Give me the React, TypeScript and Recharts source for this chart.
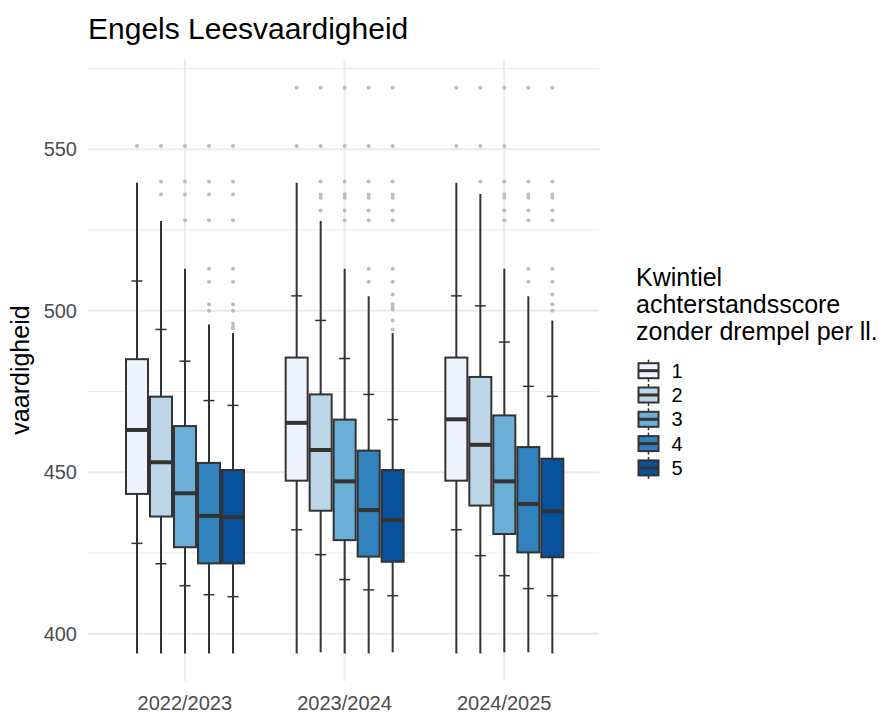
import { ComposedChart, Bar, XAxis, YAxis, CartesianGrid } from "recharts";

const years = ["2022/2023", "2023/2024", "2024/2025"];
const quintiles = ["1", "2", "3", "4", "5"];
const fills = ["#EFF3FF", "#BDD7E7", "#6BAED6", "#3182BD", "#08519C"];

// box statistics, [year][quintile]
const whiskerHigh = [
  [539.6, 527.8, 513.0, 495.7, 493.1],
  [539.6, 527.8, 513.0, 504.5, 493.1],
  [539.6, 536.1, 513.0, 504.5, 497.0],
];
const highMark = [
  [509.2, 494.2, 484.4, 472.2, 470.7],
  [504.6, 497.0, 485.2, 474.1, 466.3],
  [504.6, 501.5, 490.3, 476.6, 473.5],
];
const upperQ = [
  [485.0, 473.4, 464.3, 452.9, 450.7],
  [485.5, 474.1, 466.3, 456.7, 450.7],
  [485.5, 479.5, 467.6, 457.8, 454.2],
];
const median = [
  [463.1, 453.1, 443.5, 436.5, 436.1],
  [465.3, 456.9, 447.2, 438.3, 435.2],
  [466.4, 458.5, 447.2, 440.2, 437.9],
];
const lowerQ = [
  [443.3, 436.3, 426.8, 421.8, 421.8],
  [447.4, 438.1, 429.0, 423.9, 422.3],
  [447.4, 439.7, 430.9, 425.2, 423.7],
];
const lowMark = [
  [428.0, 421.7, 414.9, 412.1, 411.5],
  [432.2, 424.5, 416.8, 413.6, 411.8],
  [432.2, 424.2, 418.0, 414.0, 411.8],
];
const whiskerLow = [
  [393.9, 393.9, 393.9, 393.9, 393.9],
  [393.9, 394.3, 393.9, 393.9, 394.3],
  [393.9, 393.9, 394.3, 394.3, 393.9],
];
const outliers = [
  [
    [551],
    [551, 540, 536],
    [551, 540, 536, 528],
    [551, 540, 536, 528, 513, 509, 502, 500],
    [551, 540, 536, 528, 513, 509, 502, 500, 496, 495, 494.5],
  ],
  [
    [569, 551],
    [569, 551, 540, 536, 535, 531],
    [569, 551, 540, 536, 535, 531, 528],
    [569, 551, 540, 536, 535, 531, 528, 513, 509],
    [569, 551, 540, 536, 535, 531, 528, 513, 509, 505, 502, 501, 500.4, 497, 494.2],
  ],
  [
    [569, 551],
    [569, 551, 540],
    [569, 551, 540, 536, 535, 531, 528],
    [569, 540, 536, 535, 531, 528, 513, 509],
    [569, 540, 536, 535, 531, 528, 513, 509, 505, 502, 500],
  ],
];

const yTicks = [400, 450, 500, 550];
const yMinor = [425, 475, 525, 575];

const rows = years.map((year, yi) => {
  const row: any = { year, yi };
  quintiles.forEach((q, qi) => {
    row["k" + q] = [whiskerLow[yi][qi], whiskerHigh[yi][qi]];
  });
  return row;
});

const font = "'Liberation Sans', Arial, sans-serif";
const dark = "#333333";

function BoxShape(props: any) {
  const { x, y, width, height, payload, qi } = props;
  const yi = payload.yi;
  const lo = whiskerLow[yi][qi];
  const hi = whiskerHigh[yi][qi];
  const top = Math.min(y, y + height);
  const h = Math.abs(height);
  // map values with the bar's own pixel range (library scale)
  const py = (v: number) => top + ((hi - v) / (hi - lo)) * h;
  const cx = x + width / 2;
  const bx = x + 1;
  const bw = width - 2;
  return (
    <g>
      {outliers[yi][qi].map((v, i) => (
        <circle key={i} cx={cx} cy={py(v)} r={2} fill="#BDBDBD" />
      ))}
      <line x1={cx} x2={cx} y1={py(hi)} y2={py(lo)} stroke={dark} strokeWidth={2} />
      <line x1={cx - 5.5} x2={cx + 5.5} y1={py(highMark[yi][qi])} y2={py(highMark[yi][qi])} stroke={dark} strokeWidth={1.5} />
      <line x1={cx - 5.5} x2={cx + 5.5} y1={py(lowMark[yi][qi])} y2={py(lowMark[yi][qi])} stroke={dark} strokeWidth={1.5} />
      <rect
        x={bx}
        y={py(upperQ[yi][qi])}
        width={bw}
        height={py(lowerQ[yi][qi]) - py(upperQ[yi][qi])}
        fill={fills[qi]}
        stroke={dark}
        strokeWidth={2}
      />
      <line x1={bx} x2={bx + bw} y1={py(median[yi][qi])} y2={py(median[yi][qi])} stroke={dark} strokeWidth={4} />
    </g>
  );
}

function LegendKey({ cy, fill }: { cy: number; fill: string }) {
  const cx = 648.5;
  return (
    <g>
      <line x1={cx} x2={cx} y1={cy - 11} y2={cy + 11} stroke={dark} strokeWidth={1.5} />
      <rect x={cx - 10} y={cy - 7.5} width={20} height={15} fill={fill} stroke={dark} strokeWidth={2} />
      <line x1={cx - 10} x2={cx + 10} y1={cy} y2={cy} stroke={dark} strokeWidth={3} />
    </g>
  );
}

export default function App() {
  return (
    <div style={{ position: "absolute", left: 0, top: 0, width: 882, height: 713, background: "#fff", fontFamily: font }}>
      <ComposedChart
        width={882}
        height={713}
        data={rows}
        margin={{ top: 60, right: 283, bottom: 0, left: 0 }}
        barCategoryGap={0}
        barGap={0}
        barSize={24}
      >
        <CartesianGrid stroke="#EBEBEB" strokeWidth={1.1} vertical={false} horizontalValues={yMinor} syncWithTicks />
        <CartesianGrid stroke="#EBEBEB" strokeWidth={2} syncWithTicks />
        <XAxis
          dataKey="year"
          type="category"
          padding={{ left: 17, right: 15 }}
          height={32}
          axisLine={false}
          tickLine={false}
          tickSize={0}
          tickMargin={15}
          tick={{ fill: "#4D4D4D", fontSize: 20, fontFamily: font }}
        />
        <YAxis
          type="number"
          domain={[385.4, 577.6]}
          ticks={yTicks}
          width={88}
          axisLine={false}
          tickLine={false}
          tickSize={0}
          tickMargin={11}
          tick={{ fill: "#4D4D4D", fontSize: 20, fontFamily: font }}
        />
        {quintiles.map((q, qi) => (
          <Bar
            key={q}
            dataKey={"k" + q}
            isAnimationActive={false}
            shape={(p: any) => <BoxShape {...p} qi={qi} />}
          />
        ))}
      </ComposedChart>
      <svg width={882} height={713} style={{ position: "absolute", left: 0, top: 0, pointerEvents: "none" }}>
        <text x={88} y={39} fontSize={30} fill="#000" fontFamily={font}>
          Engels Leesvaardigheid
        </text>
        <text x={29} y={370} fontSize={25} fill="#000" fontFamily={font} textAnchor="middle" transform="rotate(-90 29 370)">
          vaardigheid
        </text>
        <text x={636} y={285.5} fontSize={25} fill="#000" fontFamily={font}>Kwintiel</text>
        <text x={636} y={312.8} fontSize={25} fill="#000" fontFamily={font}>achterstandsscore</text>
        <text x={636} y={340} fontSize={25} fill="#000" fontFamily={font}>zonder drempel per ll.</text>
        {quintiles.map((q, qi) => (
          <g key={q}>
            <LegendKey cy={370.7 + 24.3 * qi} fill={fills[qi]} />
            <text x={671.5} y={377.7 + 24.3 * qi} fontSize={20} fill="#000" fontFamily={font}>
              {q}
            </text>
          </g>
        ))}
      </svg>
    </div>
  );
}
